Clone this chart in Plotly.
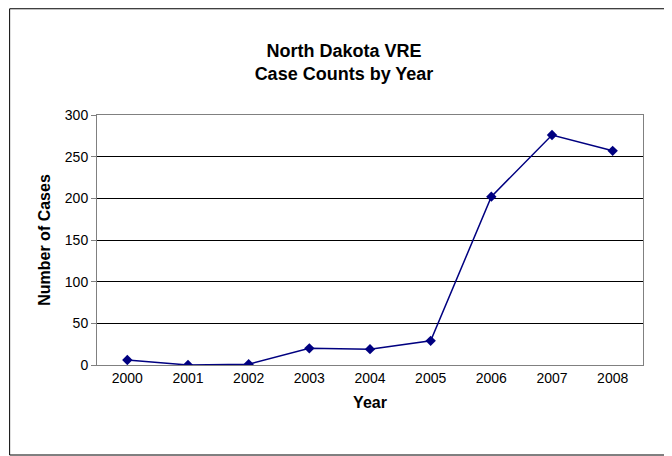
import plotly.graph_objects as go

years = [2000, 2001, 2002, 2003, 2004, 2005, 2006, 2007, 2008]
cases = [6, 0, 1, 20, 19, 29, 202, 276, 257]

fig = go.Figure()
fig.add_trace(go.Scatter(
    x=years, y=cases, mode="lines+markers",
    line=dict(color="#000080", width=1.5),
    marker=dict(symbol="diamond", size=8, color="#000080"),
))

fig.update_layout(
    width=672, height=456,
    paper_bgcolor="white", plot_bgcolor="white",
    font=dict(family="Liberation Sans, Arial", size=14, color="black"),
    title=dict(text="<b>North Dakota VRE<br>Case Counts by Year</b>",
               x=0.5, xanchor="center", y=0.893, yanchor="middle",
               font=dict(size=18)),
    margin=dict(l=89, r=37, t=107, b=99),
    showlegend=False,
    shapes=[dict(type="rect", xref="paper", yref="paper",
                 x0=-0.16, x1=1.051, y0=-0.36, y1=1.425,
                 line=dict(color="black", width=1))],
)
fig.update_xaxes(
    range=[1999.5, 2008.5], tickvals=years, ticks="", showgrid=False,
    showline=True, linecolor="#808080", mirror=True,
    title=dict(text="<b>Year</b>", font=dict(size=16), standoff=12),
)
fig.update_yaxes(
    range=[0, 300], dtick=50, ticks="outside", ticklen=5, tickcolor="#808080",
    showgrid=True, gridcolor="black", gridwidth=1,
    showline=True, linecolor="#808080", mirror=True, zeroline=False,
    title=dict(text="<b>Number of Cases</b>", font=dict(size=16), standoff=10),
)

fig.write_html("out.html")
